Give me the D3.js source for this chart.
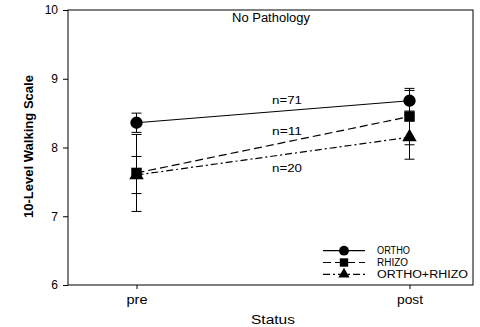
<!DOCTYPE html>
<html>
<head>
<meta charset="utf-8">
<script src="https://cdn.jsdelivr.net/npm/d3@7"></script>
<style>
  html, body { margin: 0; padding: 0; background: #fff; }
  text { font-family: "Liberation Sans", Arial, sans-serif; fill: #000; }
</style>
</head>
<body>
<svg id="chart" width="480" height="327"></svg>
<script>
// Walking scale means (with error bars) before and after treatment
const statuses = ["pre", "post"];
const groups = ["ORTHO", "RHIZO", "ORTHO+RHIZO"];
const groupN = ["n=71", "n=11", "n=20"];
const orthoMean = [8.36, 8.68];
const orthoErr = [0.14, 0.15];
const rhizoMean = [7.63, 8.45];
const rhizoErr = [0.56, 0.41];
const comboMean = [7.60, 8.15];
const comboErr = [0.27, 0.32];
const yTicks = [6, 7, 8, 9, 10];

const series = [
  { name: groups[0], mean: orthoMean, err: orthoErr, dash: null, symbol: d3.symbolCircle, size: 120, lsize: 75, width: 33 },
  { name: groups[1], mean: rhizoMean, err: rhizoErr, dash: "8,4", symbol: d3.symbolSquare, size: 110, lsize: 70, width: 31 },
  { name: groups[2], mean: comboMean, err: comboErr, dash: "7,3,2,3", symbol: d3.symbolTriangle, size: 90, lsize: 55, width: 91 }
];

const svg = d3.select("#chart");
const m = { left: 68, right: 473, top: 10, bottom: 285 };

const x = d3.scalePoint().domain(statuses).range([136.5, 409.5]);
const y = d3.scaleLinear().domain([6, 10]).range([m.bottom, m.top]);

// frame
svg.append("rect")
  .attr("x", m.left).attr("y", m.top)
  .attr("width", m.right - m.left).attr("height", m.bottom - m.top)
  .attr("fill", "none").attr("stroke", "#000").attr("stroke-width", 1);

// axes
const yAxis = svg.append("g").attr("transform", `translate(${m.left},0)`)
  .call(d3.axisLeft(y).tickValues(yTicks).tickSize(5).tickPadding(5).tickFormat(d3.format("d")));
yAxis.select(".domain").remove();
yAxis.selectAll("text").style("font-size", "12px");

const xAxis = svg.append("g").attr("transform", `translate(0,${m.bottom})`)
  .call(d3.axisBottom(x).tickSize(4).tickPadding(6));
xAxis.select(".domain").remove();
xAxis.selectAll("text").style("font-size", "12px")
  .attr("textLength", d => d === "pre" ? 21 : 26).attr("lengthAdjust", "spacingAndGlyphs");

// axis titles
svg.append("text")
  .attr("transform", `translate(33,146.5) rotate(-90)`)
  .attr("text-anchor", "middle")
  .style("font-size", "13px").style("font-weight", "bold")
  .attr("textLength", 143).attr("lengthAdjust", "spacingAndGlyphs")
  .text("10-Level Walking Scale");

svg.append("text")
  .attr("x", 273).attr("y", 324)
  .attr("text-anchor", "middle").style("font-size", "12px")
  .attr("textLength", 44).attr("lengthAdjust", "spacingAndGlyphs")
  .text("Status");

svg.append("text")
  .attr("x", 271).attr("y", 21.5)
  .attr("text-anchor", "middle").style("font-size", "12px")
  .attr("textLength", 78).attr("lengthAdjust", "spacingAndGlyphs")
  .text("No Pathology");

// error bars
series.forEach(s => {
  const g = svg.append("g");
  statuses.forEach((st, i) => {
    const cx = x(st);
    const hi = y(s.mean[i] + s.err[i]);
    const lo = y(s.mean[i] - s.err[i]);
    g.append("line").attr("x1", cx).attr("x2", cx).attr("y1", hi).attr("y2", lo)
      .attr("stroke", "#000").attr("stroke-width", 1);
    [hi, lo].forEach(yy => g.append("line")
      .attr("x1", cx - 5).attr("x2", cx + 5).attr("y1", yy).attr("y2", yy)
      .attr("stroke", "#000").attr("stroke-width", 1));
  });
});

// connecting lines and markers
const line = d3.line().x((d, i) => x(statuses[i])).y(d => y(d));
series.forEach(s => {
  svg.append("path").datum(s.mean)
    .attr("d", line).attr("fill", "none").attr("stroke", "#000").attr("stroke-width", 1.2)
    .attr("stroke-dasharray", s.dash);
});
series.forEach(s => {
  svg.selectAll(null).data(s.mean).enter().append("path")
    .attr("transform", (d, i) => `translate(${x(statuses[i])},${y(d)})`)
    .attr("d", d3.symbol().type(s.symbol).size(s.size));
});

// group sizes, placed beside their lines
const nAt = [8.69, 8.24, 7.70];
groupN.forEach((t, i) => {
  svg.append("text").attr("x", 287).attr("y", y(nAt[i]) + 4)
    .attr("text-anchor", "middle").style("font-size", "10.5px")
    .attr("textLength", 30).attr("lengthAdjust", "spacingAndGlyphs").text(t);
});

// legend
const lg = svg.append("g");
series.forEach((s, i) => {
  const ly = 250.7 + i * 11.8;
  lg.append("line").attr("x1", 323).attr("x2", 365).attr("y1", ly).attr("y2", ly)
    .attr("stroke", "#000").attr("stroke-width", 1.2).attr("stroke-dasharray", s.dash);
  lg.append("path").attr("transform", `translate(344,${ly})`)
    .attr("d", d3.symbol().type(s.symbol).size(s.lsize));
  lg.append("text").attr("x", 377).attr("y", ly + 3.6).style("font-size", "10px")
    .attr("textLength", s.width).attr("lengthAdjust", "spacingAndGlyphs").text(s.name);
});
</script>
</body>
</html>
